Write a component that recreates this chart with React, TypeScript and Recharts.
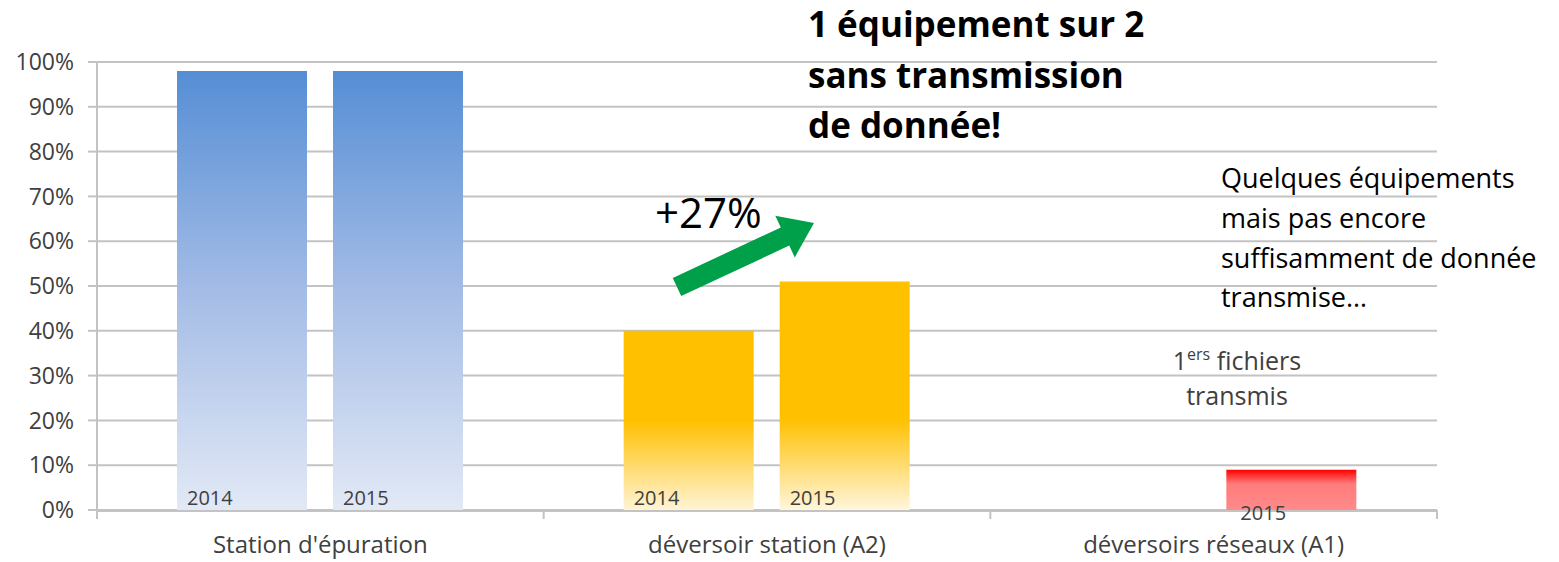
import { BarChart, Bar, XAxis, YAxis, CartesianGrid, Cell, LabelList } from "recharts";

// values (share of equipments transmitting data)
const categories = ["Station d'épuration", "déversoir station (A2)", "déversoirs réseaux (A1)"];
const values2014: (number | null)[] = [0.98, 0.4, null];
const values2015: (number | null)[] = [0.98, 0.51, 0.09];
const yTicks = [0, 0.1, 0.2, 0.3, 0.4, 0.5, 0.6, 0.7, 0.8, 0.9, 1];
const edgeTicks = [0, 1, 2, 3];

const fills2014 = ["url(#blueFade)", "url(#orangeFade14)", "none"];
const fills2015 = ["url(#blueFade)", "url(#orangeFade15)", "url(#redFade)"];

const data = categories.map((name, i) => ({
  name,
  y2014: values2014[i],
  y2015: values2015[i],
}));

const FONT = "'Open Sans', Lato, sans-serif";
const GRID = "#c3c3c3";
const TXT = "#404040";

const W = 1559;
const H = 562;

// axis ids: 0 = category boundary ticks (closest to the plot), 1 = category labels
const EDGE_AXIS = 0;
const CAT_AXIS = 1;

function yearLabel(year: string) {
  return (p: any) => {
    const { x, y, height, index, value } = p;
    if (value == null) return null;
    const bottom = Number(y) + Number(height);
    // the last category's label sits on the axis, shifted off the bar's left edge
    const lx = index === 2 ? Number(x) + 14 : Number(x) + 10;
    const ly = index === 2 ? bottom + 10 : bottom - 5;
    return (
      <text x={lx} y={ly} fontSize={20} fontFamily={FONT} fill={TXT}>
        {year}
      </text>
    );
  };
}

// green "+27%" arrow
function Arrow() {
  const tail = [677, 287];
  const tip = [814, 223];
  const shaft = 20;
  const head = 46;
  const headLen = 32;
  const dx = tip[0] - tail[0];
  const dy = tip[1] - tail[1];
  const len = Math.hypot(dx, dy);
  const ux = dx / len, uy = dy / len;
  const nx = -uy, ny = ux;
  const bx = tip[0] - ux * headLen, by = tip[1] - uy * headLen;
  const pts = [
    [tail[0] + nx * shaft / 2, tail[1] + ny * shaft / 2],
    [bx + nx * shaft / 2, by + ny * shaft / 2],
    [bx + nx * head / 2, by + ny * head / 2],
    tip,
    [bx - nx * head / 2, by - ny * head / 2],
    [bx - nx * shaft / 2, by - ny * shaft / 2],
    [tail[0] - nx * shaft / 2, tail[1] - ny * shaft / 2],
  ];
  return <polygon points={pts.map((q) => q.join(",")).join(" ")} fill="#00a04a" />;
}

export default function App() {
  return (
    <div style={{ position: "absolute", left: 0, top: 0, width: W, height: H, background: "#fff" }}>
      <BarChart
        width={W}
        height={H}
        data={data}
        margin={{ top: 62, right: 122, bottom: 0, left: 0 }}
        barCategoryGap={80}
        barGap={26}
      >
        <defs>
          <linearGradient id="blueFade" x1="0" y1="0" x2="0" y2="1">
            <stop offset="0%" stopColor="#558ed5" />
            <stop offset="50%" stopColor="#a4bce6" />
            <stop offset="100%" stopColor="#e2e9f6" />
          </linearGradient>
          <linearGradient id="orangeFade14" x1="0" y1="0" x2="0" y2="1">
            <stop offset="0%" stopColor="#ffc000" />
            <stop offset="50%" stopColor="#ffc000" />
            <stop offset="100%" stopColor="#fff4d6" />
          </linearGradient>
          <linearGradient id="orangeFade15" x1="0" y1="0" x2="0" y2="1">
            <stop offset="0%" stopColor="#ffc000" />
            <stop offset="60%" stopColor="#ffc000" />
            <stop offset="100%" stopColor="#fff6dc" />
          </linearGradient>
          <linearGradient id="redFade" x1="0" y1="0" x2="0" y2="1">
            <stop offset="0%" stopColor="#ff0000" />
            <stop offset="35%" stopColor="#ff7c7c" />
            <stop offset="100%" stopColor="#ff8a8a" />
          </linearGradient>
        </defs>
        <CartesianGrid vertical={false} stroke={GRID} strokeWidth={2} xAxisId={CAT_AXIS} />
        <XAxis
          xAxisId={EDGE_AXIS}
          type="number"
          dataKey={() => 0}
          domain={[0, 3]}
          ticks={edgeTicks}
          interval={0}
          allowDataOverflow
          tickFormatter={() => ""}
          axisLine={false}
          tickLine={{ stroke: GRID, strokeWidth: 2 }}
          tickSize={9}
          height={1}
        />
        <XAxis
          xAxisId={CAT_AXIS}
          dataKey="name"
          axisLine={{ stroke: GRID, strokeWidth: 2 }}
          tickLine={false}
          tickSize={6}
          tickMargin={19}
          height={51}
          tick={{ fontSize: 24, fontFamily: FONT, fill: TXT }}
        />
        <YAxis
          domain={[0, 1]}
          ticks={yTicks}
          width={97}
          tickFormatter={(v: number) => `${Math.round(v * 100)}%`}
          axisLine={{ stroke: GRID, strokeWidth: 2 }}
          tickLine={{ stroke: GRID, strokeWidth: 2 }}
          tickSize={9}
          tickMargin={14}
          tick={{ fontSize: 23, fontFamily: FONT, fill: TXT }}
        />
        <Bar dataKey="y2014" xAxisId={CAT_AXIS} isAnimationActive={false}>
          {data.map((_, i) => (
            <Cell key={i} fill={fills2014[i]} />
          ))}
          <LabelList dataKey="y2014" content={yearLabel("2014")} />
        </Bar>
        <Bar dataKey="y2015" xAxisId={CAT_AXIS} isAnimationActive={false}>
          {data.map((_, i) => (
            <Cell key={i} fill={fills2015[i]} />
          ))}
          <LabelList dataKey="y2015" content={yearLabel("2015")} />
        </Bar>
      </BarChart>

      <svg
        width={W}
        height={H}
        style={{ position: "absolute", left: 0, top: 0, pointerEvents: "none" }}
        fontFamily={FONT}
      >
        <text fontSize={35} fontWeight={700} fill="#000">
          <tspan x={808} y={37}>1 équipement sur 2</tspan>
          <tspan x={808} y={88}>sans transmission</tspan>
          <tspan x={808} y={138}>de donnée!</tspan>
        </text>
        <text x={655} y={228} fontSize={42} fill="#000">+27%</text>
        <Arrow />
        <text fontSize={27} fill="#000">
          <tspan x={1221} y={188}>Quelques équipements</tspan>
          <tspan x={1221} y={228}>mais pas encore</tspan>
          <tspan x={1221} y={268}>suffisamment de donnée</tspan>
          <tspan x={1221} y={307}>transmise…</tspan>
        </text>
        <text fontSize={25} fill={TXT} textAnchor="middle">
          <tspan x={1237} y={370}>
            1<tspan fontSize={16} dy={-10}>ers</tspan>
            <tspan dy={10}> fichiers</tspan>
          </tspan>
          <tspan x={1237} y={405}>transmis</tspan>
        </text>
      </svg>
    </div>
  );
}
